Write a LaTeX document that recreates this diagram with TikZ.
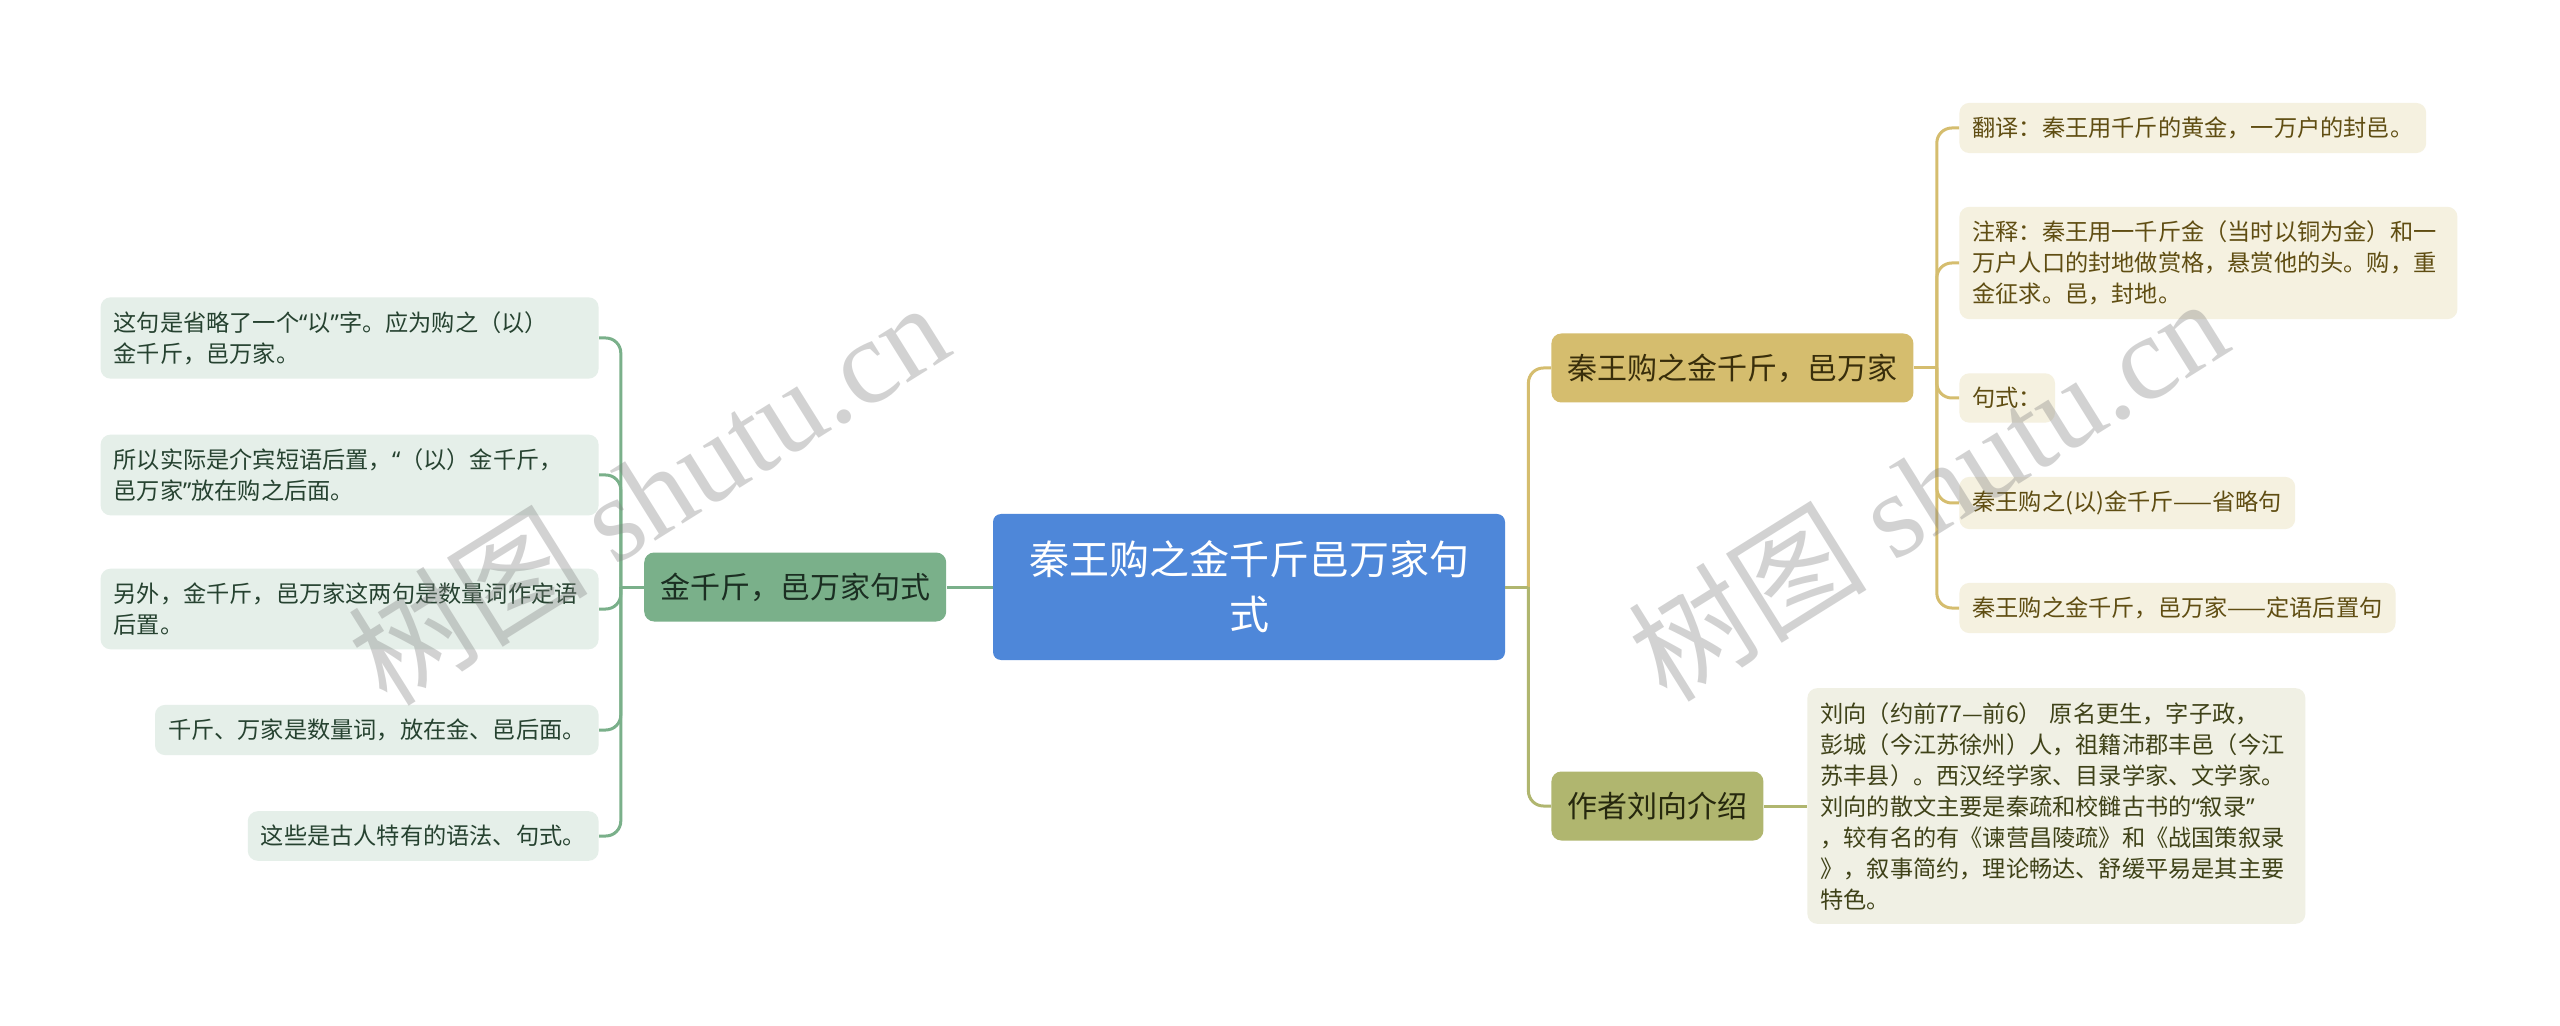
\documentclass[tikz,border=0pt]{standalone}
\usepackage{fontspec}
\setmainfont{Noto Sans CJK SC}
\newfontfamily\wmserif{Liberation Serif}
\newfontfamily\quotefont{Noto Sans}
\newcommand{\qopen}{{\quotefont “}}
\newcommand{\qclose}{{\quotefont ”}}
\usepackage{tikz}
\usetikzlibrary{
	positioning,
	calc
}
\definecolor{rootblue}{HTML}{4E87D9}
\definecolor{greenT}{HTML}{7AB08A}
\definecolor{greenN}{HTML}{E5EFE9}
\definecolor{greenTxt}{HTML}{264230}
\definecolor{goldT}{HTML}{D5BD6E}
\definecolor{goldN}{HTML}{F5F1E0}
\definecolor{goldTxt}{HTML}{5F4D12}
\definecolor{oliveT}{HTML}{B0B66F}
\definecolor{oliveN}{HTML}{F0F0E4}
\definecolor{oliveTxt}{HTML}{3F4218}

\begin{document}
\begin{tikzpicture}[
			x=0.5pt, y=-0.5pt,
			root/.style={
				rectangle, rounded corners=4pt,
				minimum width=256pt, minimum height=73pt,
				align=center, fill=rootblue, text=white,
				font=\fontsize{20}{27.5}\selectfont
			},
			topic/.style={
				rectangle, rounded corners=5pt,
				minimum height=34.5pt, inner xsep=8pt,
				font=\fontsize{15}{18}\selectfont
			},
			note/.style={
				rectangle, rounded corners=5pt,
				inner xsep=6.5pt, inner ysep=7pt,
				align=left, font=\fontsize{11.6}{15.5}\selectfont
			},
			link/.style={line width=1.5pt, rounded corners=7.5pt},
			wmark/.style={text=gray, text opacity=0.35, font=\fontsize{60}{64}\selectfont}
			]
			
			\fill[white] (0,0) rectangle (2560,1026);
			\useasboundingbox (0,0) rectangle (2560,1026);
			
			% ---------------- ROOT ----------------
			\node[root] (root) at (1249,587) {秦王购之金千斤邑万家句\\式};
			
			% ---------------- left topic ----------------
			\node[topic, fill=greenT, text=greenTxt!70!black, left=23pt of root] (jin) {金千斤，邑万家句式};
			
			\node[note, fill=greenN, text=greenTxt, text width=236pt, anchor=east] (g1) at (599,338) {这句是省略了一个\qopen 以\qclose 字。应为购之（以）\\金千斤，邑万家。};
			\node[note, fill=greenN, text=greenTxt, text width=236pt, anchor=east] (g2) at (599,475) {所以实际是介宾短语后置，\qopen（以）金千斤，\\邑万家\qclose 放在购之后面。};
			\node[note, fill=greenN, text=greenTxt, text width=236pt, anchor=east] (g3) at (599,609) {另外，金千斤，邑万家这两句是数量词作定语\\后置。};
			\node[note, fill=greenN, text=greenTxt, anchor=east] (g4) at (599,730) {千斤、万家是数量词，放在金、邑后面。};
			\node[note, fill=greenN, text=greenTxt, anchor=east] (g5) at (599,836) {这些是古人特有的语法、句式。};
			
			\coordinate (jL) at ($(jin.west)+(-11.5pt,0)$);
			\draw[link, greenT] (jin.west) -- (jL);
			\draw[link, greenT] (root.west) -- (jin.east);
			\foreach \n in {g1,g2,g3,g4,g5}
				\draw[link, greenT] (jL) |- (\n.east);
			
			% ---------------- right topics ----------------
			\node[topic, fill=goldT, text=goldTxt!60!black, anchor=west] (qin) at (1551,368) {秦王购之金千斤，邑万家};
			\node[topic, fill=oliveT, text=oliveTxt!60!black, anchor=west] (liu) at (1551,806) {作者刘向介绍};
			
			\coordinate (jR) at ($(root.east)+(11.5pt,0)$);
			\draw[link, goldT] (jR) |- (qin.west);
			\draw[link, oliveT] (jR) |- (liu.west);
			\draw[link, oliveT] (root.east) -- (jR);
			
			% notes of the first topic
			\node[note, fill=goldN, text=goldTxt, anchor=west] (y1) at (1959,128) {翻译：秦王用千斤的黄金，一万户的封邑。};
			\node[note, fill=goldN, text=goldTxt, text width=236pt, anchor=west] (y2) at (1959,263) {注释：秦王用一千斤金（当时以铜为金）和一\\万户人口的封地做赏格，悬赏他的头。购，重\\金征求。邑，封地。};
			\node[note, fill=goldN, text=goldTxt, anchor=west] (y3) at (1959,398) {句式：};
			\node[note, fill=goldN, text=goldTxt, anchor=west] (y4) at (1959,503) {秦王购之(以)金千斤——省略句};
			\node[note, fill=goldN, text=goldTxt, anchor=west] (y5) at (1959,608) {秦王购之金千斤，邑万家——定语后置句};
			
			\coordinate (jQ) at ($(qin.east)+(11.5pt,0)$);
			\draw[link, goldT] (qin.east) -- (jQ);
			\foreach \n in {y1,y2,y3,y4,y5}
				\draw[link, goldT] (jQ) |- (\n.west);
			
			% note of the second topic
			\node[note, fill=oliveN, text=oliveTxt, text width=236pt, anchor=west] (author) at (1807,806) {刘向（约前77—前6） 原名更生，字子政，\\彭城（今江苏徐州）人，祖籍沛郡丰邑（今江\\苏丰县）。西汉经学家、目录学家、文学家。\\刘向的散文主要是秦疏和校雠古书的\qopen 叙录\qclose\\，较有名的有《谏营昌陵疏》和《战国策叙录\\》，叙事简约，理论畅达、舒缓平易是其主要\\特色。};
			\draw[link, oliveT] (liu.east) -- (author.west);
			
			% ---------------- watermark ----------------
			\node[wmark, rotate=32] (wmL) at (648,492) {树图 {\wmserif shutu.cn}};
			\node[wmark, rotate=32] (wmR) at (1927,488) {树图 {\wmserif shutu.cn}};
		\end{tikzpicture}
\end{document}
